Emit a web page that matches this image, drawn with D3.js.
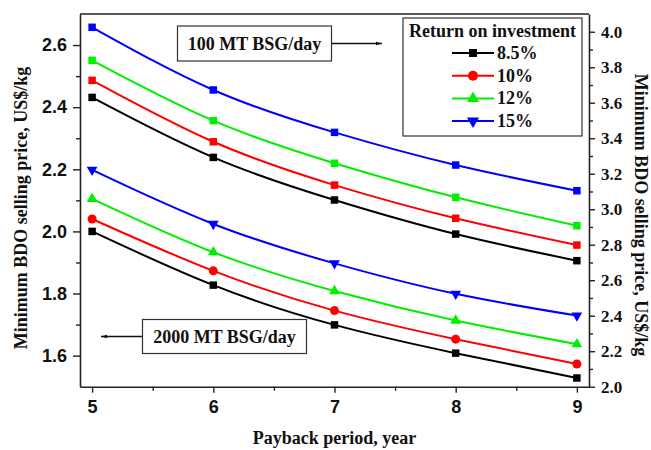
<!DOCTYPE html>
<html>
<head>
<meta charset="utf-8">
<script src="https://cdn.jsdelivr.net/npm/d3@7"></script>
<style>
  html, body { margin: 0; padding: 0; background: #ffffff; }
  svg { display: block; }
</style>
</head>
<body>
<svg id="chart" width="651" height="450"></svg>
<script>
// ---------------- data ----------------
const years = [5, 6, 7, 8, 9];
const roiLabels = ["8.5%", "10%", "12%", "15%"];
const xTickValues = [5, 6, 7, 8, 9];
const leftTickValues = [1.6, 1.8, 2.0, 2.2, 2.4, 2.6];
const rightTickValues = [2.0, 2.2, 2.4, 2.6, 2.8, 3.0, 3.2, 3.4, 3.6, 3.8, 4.0];

// 100 MT BSG/day (read on right axis)
const mt100_roi85 = [3.630, 3.292, 3.052, 2.860, 2.710];
const mt100_roi10 = [3.726, 3.380, 3.136, 2.949, 2.798];
const mt100_roi12 = [3.839, 3.499, 3.259, 3.067, 2.907];
const mt100_roi15 = [4.025, 3.672, 3.433, 3.249, 3.104];
// 2000 MT BSG/day (read on left axis)
const mt2000_roi85 = [2.000, 1.827, 1.699, 1.608, 1.528];
const mt2000_roi10 = [2.040, 1.873, 1.745, 1.653, 1.573];
const mt2000_roi12 = [2.105, 1.933, 1.808, 1.713, 1.637];
const mt2000_roi15 = [2.198, 2.024, 1.897, 1.799, 1.729];

const colors = ["#000000", "#ff0000", "#00ee00", "#0000ff"];
const symbols2000 = [d3.symbolSquare, d3.symbolCircle, d3.symbolTriangle, d3.symbolTriangle];
const symbolRot = [0, 0, 0, 180];

// ---------------- layout ----------------
const svg = d3.select("#chart");
const L = 80, R = 589, T = 14, B = 386.7;
const serif = "'Liberation Serif','Times New Roman',serif";
const sans = "'Liberation Sans',Arial,sans-serif";

const x = d3.scaleLinear().domain([4.9, 9.1]).range([L, R]);
const yL = d3.scaleLinear().domain([1.5, 2.7]).range([B, T]);
const yR = d3.scaleLinear().domain([2.0, 4.1]).range([B, T]);

const axisColor = "#222";

function styleAxis(g) {
  g.selectAll("path.domain").attr("stroke", axisColor).attr("stroke-width", 1.6);
  g.selectAll(".tick line").attr("stroke", axisColor).attr("stroke-width", 1.4);
}

// bottom axis
const gx = svg.append("g").attr("transform", `translate(0,${B})`)
  .call(d3.axisBottom(x).tickValues(xTickValues).tickFormat(d3.format("d")).tickSize(6).tickSizeOuter(0).tickPadding(8));
styleAxis(gx);
gx.selectAll("text").attr("font-family", sans).attr("font-weight", "bold").attr("font-size", 18).attr("fill", "#111");
const gxm = svg.append("g").attr("transform", `translate(0,${B})`)
  .call(d3.axisBottom(x).tickValues([5.5, 6.5, 7.5, 8.5]).tickFormat("").tickSize(4).tickSizeOuter(0));
gxm.select("path.domain").remove();
styleAxis(gxm);

// left axis
const gl = svg.append("g").attr("transform", `translate(${L},0)`)
  .call(d3.axisLeft(yL).tickValues(leftTickValues).tickFormat(d3.format(".1f")).tickSize(7).tickSizeOuter(0).tickPadding(6));
styleAxis(gl);
gl.selectAll("text").attr("font-family", sans).attr("font-weight", "bold").attr("font-size", 18).attr("fill", "#111");
const glm = svg.append("g").attr("transform", `translate(${L},0)`)
  .call(d3.axisLeft(yL).tickValues([1.7, 1.9, 2.1, 2.3, 2.5]).tickFormat("").tickSize(4).tickSizeOuter(0));
glm.select("path.domain").remove();
styleAxis(glm);

// right axis
const gr = svg.append("g").attr("transform", `translate(${R},0)`)
  .call(d3.axisRight(yR).tickValues(rightTickValues).tickFormat(d3.format(".1f")).tickSize(6).tickSizeOuter(0).tickPadding(6));
styleAxis(gr);
gr.selectAll("text").attr("font-family", serif).attr("font-weight", "bold").attr("font-size", 17).attr("fill", "#111");
const grm = svg.append("g").attr("transform", `translate(${R},0)`)
  .call(d3.axisRight(yR).tickValues([2.1, 2.3, 2.5, 2.7, 2.9, 3.1, 3.3, 3.5, 3.7, 3.9]).tickFormat("").tickSize(4).tickSizeOuter(0));
grm.select("path.domain").remove();
styleAxis(grm);

// top frame
svg.append("line").attr("x1", L).attr("x2", R).attr("y1", T).attr("y2", T)
  .attr("stroke", axisColor).attr("stroke-width", 1.6);

// ---------------- series ----------------
const series100 = [mt100_roi85, mt100_roi10, mt100_roi12, mt100_roi15];
const series2000 = [mt2000_roi85, mt2000_roi10, mt2000_roi12, mt2000_roi15];

function drawSeries(vals, yScale, color, symType, rot, size) {
  const pts = years.map((yr, i) => [x(yr), yScale(vals[i])]);
  svg.append("path").attr("d", d3.line().curve(d3.curveNatural)(pts))
    .attr("fill", "none").attr("stroke", color).attr("stroke-width", 2);
  pts.forEach(p => {
    svg.append("path").attr("d", d3.symbol().type(symType).size(size)())
      .attr("transform", `translate(${p[0]},${p[1]}) rotate(${rot})`)
      .attr("fill", color);
  });
}
series2000.forEach((s, i) => drawSeries(s, yL, colors[i], symbols2000[i], symbolRot[i], i === 0 ? 56 : (i === 1 ? 64 : 50)));
series100.forEach((s, i) => drawSeries(s, yR, colors[i], d3.symbolSquare, 0, 56));

// ---------------- annotations ----------------
svg.append("defs").append("marker").attr("id", "arr").attr("viewBox", "0 0 10 10")
  .attr("refX", 10).attr("refY", 5).attr("markerWidth", 6).attr("markerHeight", 6)
  .attr("orient", "auto-start-reverse").attr("markerUnits", "userSpaceOnUse")
  .append("path").attr("d", "M0,2 L10,5 L0,8 Z").attr("fill", "#111");

function annot(bx, by, bw, bh, text, ax1, ax2) {
  svg.append("rect").attr("x", bx).attr("y", by).attr("width", bw).attr("height", bh)
    .attr("fill", "#fff").attr("stroke", "#333").attr("stroke-width", 1.2);
  svg.append("text").attr("x", bx + bw / 2).attr("y", by + bh / 2 + 6)
    .attr("text-anchor", "middle").attr("font-family", serif).attr("font-weight", "bold")
    .attr("font-size", 18).attr("fill", "#111").text(text);
  svg.append("line").attr("x1", ax1).attr("x2", ax2).attr("y1", by + bh / 2).attr("y2", by + bh / 2)
    .attr("stroke", "#111").attr("stroke-width", 1.3).attr("marker-end", "url(#arr)");
}
annot(177.5, 26, 154, 35, "100 MT BSG/day", 331.5, 382);
annot(142.5, 319.5, 164, 34, "2000 MT BSG/day", 142.5, 101);

// ---------------- legend ----------------
const lg = svg.append("g");
lg.append("rect").attr("x", 403).attr("y", 18).attr("width", 179).attr("height", 118)
  .attr("fill", "#fff").attr("stroke", "#333").attr("stroke-width", 1.2);
lg.append("text").attr("x", 492.5).attr("y", 37).attr("text-anchor", "middle")
  .attr("font-family", serif).attr("font-weight", "bold").attr("font-size", 18).attr("fill", "#111")
  .text("Return on investment");
roiLabels.forEach((lab, i) => {
  const cy = 53 + i * 22.7;
  lg.append("line").attr("x1", 452).attr("x2", 494).attr("y1", cy).attr("y2", cy)
    .attr("stroke", colors[i]).attr("stroke-width", 2);
  lg.append("path").attr("d", d3.symbol().type(symbols2000[i]).size(i === 1 ? 80 : 64)())
    .attr("transform", `translate(473,${cy}) rotate(${symbolRot[i]})`).attr("fill", colors[i]);
  lg.append("text").attr("x", 497).attr("y", cy + 6).attr("font-family", serif)
    .attr("font-weight", "bold").attr("font-size", 18).attr("fill", "#111").text(lab);
});

// ---------------- axis titles ----------------
svg.append("text").attr("transform", `translate(27,208) rotate(-90)`).attr("text-anchor", "middle")
  .attr("font-family", serif).attr("font-weight", "bold").attr("font-size", 18).attr("fill", "#111")
  .text("Minimum BDO selling price, US$/kg");
svg.append("text").attr("transform", `translate(635,215) rotate(90)`).attr("text-anchor", "middle")
  .attr("font-family", serif).attr("font-weight", "bold").attr("font-size", 18).attr("fill", "#111")
  .text("Minimum BDO selling price, US$/kg");
svg.append("text").attr("x", 334.5).attr("y", 444).attr("text-anchor", "middle")
  .attr("font-family", serif).attr("font-weight", "bold").attr("font-size", 18).attr("fill", "#111")
  .text("Payback period, year");
</script>
</body>
</html>
